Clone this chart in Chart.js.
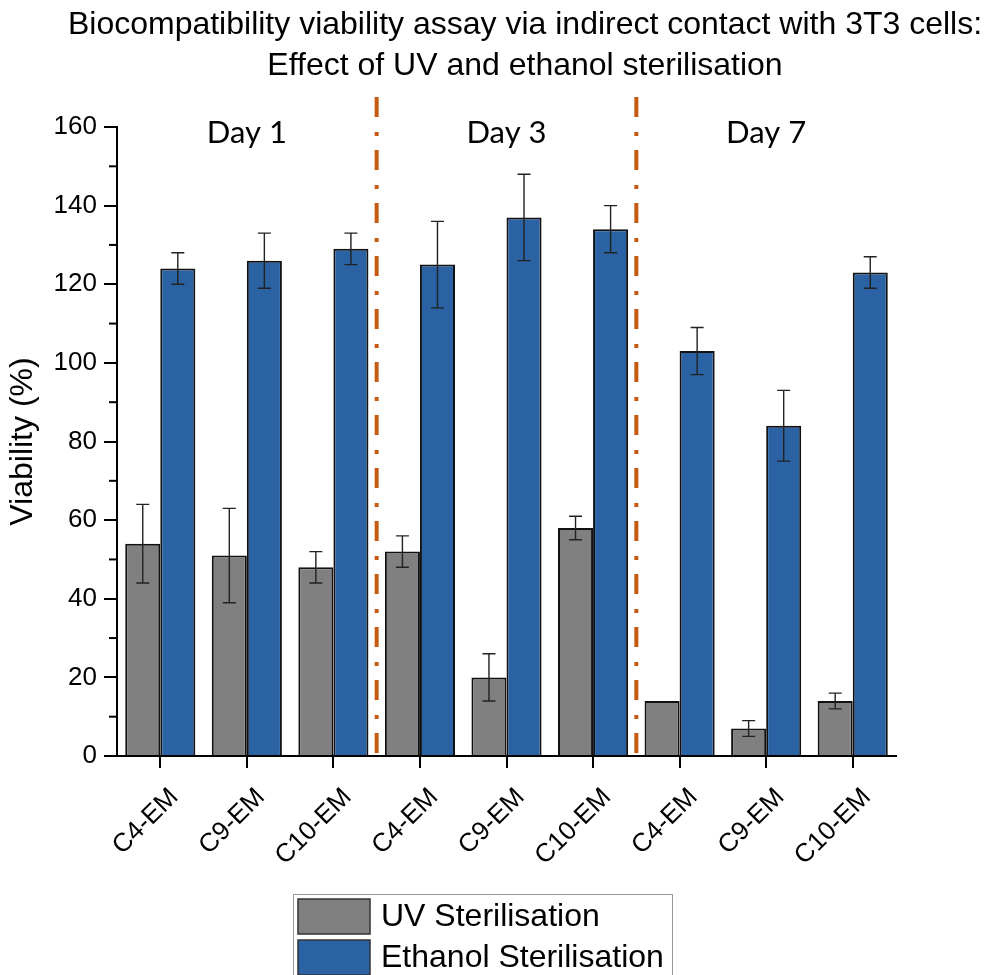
<!DOCTYPE html>
<html>
<head>
<meta charset="utf-8">
<script src="https://cdn.jsdelivr.net/npm/chart.js@4.4.1/dist/chart.umd.min.js"></script>
<style>
  body { margin: 0; background: #fff; }
  #wrap { width: 996px; height: 975px; }
</style>
</head>
<body>
<div id="wrap"><canvas id="myChart" width="996" height="975"></canvas></div>
<script>
const samples = ['C4-EM', 'C9-EM', 'C10-EM', 'C4-EM', 'C9-EM', 'C10-EM', 'C4-EM', 'C9-EM', 'C10-EM'];
const days = ['Day 1', 'Day 3', 'Day 7'];
const titleLines = ['Biocompatibility viability assay via indirect contact with 3T3 cells:',
                    'Effect of UV and ethanol sterilisation'];

const uvViability = [54, 51, 48, 52, 20, 58, 14, 7, 14];
const uvError = [10, 12, 4, 4, 6, 3, 0, 2, 2];
const ethanolViability = [124, 126, 129, 125, 137, 134, 103, 84, 123];
const ethanolError = [4, 7, 4, 11, 11, 6, 6, 9, 4];

const yTicks = [0, 20, 40, 60, 80, 100, 120, 140, 160];

const errors = [uvError, ethanolError];
const arial = '"Liberation Sans", Arial, sans-serif';

// whiskers on top of each bar
const errorBars = {
    id: 'errorBars',
    afterDatasetsDraw(chart) {
        const ctx = chart.ctx;
        const y = chart.scales.y;
        ctx.save();
        ctx.strokeStyle = '#222';
        ctx.lineWidth = 1.4;
        chart.data.datasets.forEach((ds, i) => {
            const meta = chart.getDatasetMeta(i);
            meta.data.forEach((bar, j) => {
                const err = errors[i][j];
                if (!err) return;
                const top = y.getPixelForValue(ds.data[j] + err);
                const bottom = y.getPixelForValue(ds.data[j] - err);
                ctx.beginPath();
                ctx.moveTo(bar.x, top);
                ctx.lineTo(bar.x, bottom);
                ctx.moveTo(bar.x - 6.5, top);
                ctx.lineTo(bar.x + 6.5, top);
                ctx.moveTo(bar.x - 6.5, bottom);
                ctx.lineTo(bar.x + 6.5, bottom);
                ctx.stroke();
            });
        });
        ctx.restore();
    }
};

// title, minor ticks, day separators, day names and the legend box
const extras = {
    id: 'extras',
    afterDraw(chart) {
        const ctx = chart.ctx;
        const x = chart.scales.x;
        const y = chart.scales.y;
        const area = chart.chartArea;
        ctx.save();

        ctx.fillStyle = '#000';
        ctx.font = '32px ' + arial;
        ctx.textAlign = 'center';
        ctx.textBaseline = 'alphabetic';
        titleLines.forEach((t, i) => ctx.fillText(t, chart.width / 2 + 27, 34 + i * 41));

        ctx.strokeStyle = '#000';
        ctx.lineWidth = 2;
        for (let v = 10; v < 160; v += 20) {
            const py = y.getPixelForValue(v);
            ctx.beginPath();
            ctx.moveTo(area.left - 8, py);
            ctx.lineTo(area.left, py);
            ctx.stroke();
        }

        ctx.strokeStyle = '#c55a11';
        ctx.lineWidth = 4;
        ctx.setLineDash([20, 15, 4, 14]);
        [2, 5].forEach(i => {
            const px = (x.getPixelForValue(i) + x.getPixelForValue(i + 1)) / 2;
            ctx.beginPath();
            ctx.moveTo(px, area.top - 30);
            ctx.lineTo(px, area.bottom + 4);
            ctx.stroke();
        });
        ctx.setLineDash([]);

        ctx.fillStyle = '#000';
        ctx.font = '31px Lato';
        days.forEach((d, i) => {
            ctx.fillText(d, x.getPixelForValue(i * 3 + 1), area.top + 16);
        });

        const lx = area.left + 176, ly = 894;
        ctx.strokeStyle = '#999';
        ctx.lineWidth = 1;
        ctx.strokeRect(lx + 0.5, ly + 0.5, 379, 90);
        ctx.font = '32px ' + arial;
        ctx.textAlign = 'left';
        ctx.textBaseline = 'middle';
        chart.data.datasets.forEach((ds, i) => {
            const by = ly + 5 + i * 41;
            ctx.fillStyle = ds.backgroundColor;
            ctx.fillRect(lx + 5, by, 72, 35);
            ctx.strokeStyle = '#333';
            ctx.lineWidth = 1.5;
            ctx.strokeRect(lx + 5, by, 72, 35);
            ctx.fillStyle = '#000';
            ctx.fillText(ds.label, lx + 88, by + 18);
        });
        ctx.restore();
    }
};

const ctx = document.getElementById('myChart');
const myChart = new Chart(ctx, {
    type: 'bar',
    data: {
        labels: samples,
        datasets: [
            {
                label: 'UV Sterilisation',
                data: uvViability,
                backgroundColor: '#808080',
                borderColor: '#111',
                borderWidth: 2
            },
            {
                label: 'Ethanol Sterilisation',
                data: ethanolViability,
                backgroundColor: '#2a62a4',
                borderColor: '#111',
                borderWidth: 2
            }
        ]
    },
    options: {
        responsive: false,
        animation: false,
        categoryPercentage: 0.81,
        barPercentage: 1,
        layout: { padding: { left: 0, right: 100, top: 127, bottom: 0 } },
        plugins: {
            legend: { display: false },
            tooltip: { enabled: false },
            title: { display: false }
        },
        scales: {
            x: {
                grid: { drawOnChartArea: false, offset: false, color: '#000', lineWidth: 2, tickLength: 12 },
                border: { color: '#000', width: 2 },
                ticks: {
                    color: '#000',
                    maxRotation: 45,
                    minRotation: 45,
                    padding: 14,
                    labelOffset: 14,
                    font: { family: arial, size: 26 }
                },
                afterFit(scale) { scale.height = 219; }
            },
            y: {
                min: 0,
                max: 160,
                afterBuildTicks(scale) { scale.ticks = yTicks.map(v => ({ value: v })); },
                grid: { drawOnChartArea: false, color: '#000', lineWidth: 2, tickLength: 13 },
                border: { color: '#000', width: 2 },
                ticks: {
                    color: '#000',
                    padding: 7,
                    font: { family: arial, size: 26 }
                },
                title: {
                    display: true,
                    text: 'Viability (%)',
                    color: '#000',
                    padding: { top: 4, bottom: 0 },
                    font: { family: arial, size: 32 }
                },
                afterFit(scale) { scale.width = 117; }
            }
        }
    },
    plugins: [errorBars, extras]
});
</script>
</body>
</html>
